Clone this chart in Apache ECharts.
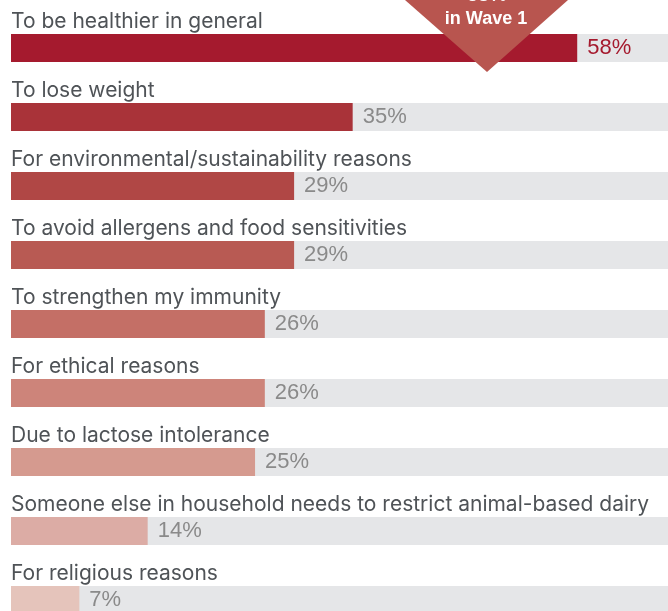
<!DOCTYPE html>
<html>
<head>
<meta charset="utf-8">
<script src="https://cdn.jsdelivr.net/npm/echarts@6/dist/echarts.min.js"></script>
<style>
  html, body { margin: 0; padding: 0; background: #ffffff; }
  #chart { width: 668px; height: 611px; }
</style>
</head>
<body>
<div id="chart"></div>
<script>
// Reasons for choosing plant-based dairy alternatives (share of respondents, %)
const reasons = [
  'To be healthier in general',
  'To lose weight',
  'For environmental/sustainability reasons',
  'To avoid allergens and food sensitivities',
  'To strengthen my immunity',
  'For ethical reasons',
  'Due to lactose intolerance',
  'Someone else in household needs to restrict animal-based dairy',
  'For religious reasons'
];
const shares = [58, 35, 29, 29, 26, 26, 25, 14, 7];
const barColors = ['#a51a2e', '#a93339', '#b04745', '#b85a53', '#c46f66', '#cd847a', '#d59a8f', '#dcaca5', '#e5c4bb'];
const waveOneShare = '53%';
const waveOneNote = 'in Wave 1';

const FONT = '"Liberation Sans", Arial, Helvetica, sans-serif';
const LABEL_FONT = 'Inter, "Liberation Sans", Arial, sans-serif';

const chart = echarts.init(document.getElementById('chart'));

chart.setOption({
  animation: false,
  backgroundColor: '#ffffff',
  grid: { left: 11, right: 0, top: 13.5, height: 621, outerBoundsMode: 'none', containLabel: false },
  xAxis: { type: 'value', min: 0, max: 67.3, show: false },
  yAxis: {
    type: 'category',
    data: reasons,
    inverse: true,
    axisLine: { show: false },
    axisTick: { show: false },
    axisLabel: {
      inside: true,
      margin: 0,
      align: 'left',
      verticalAlign: 'bottom',
      padding: [0, 0, 16, 0],
      color: '#4f5357',
      fontSize: 21,
      fontFamily: LABEL_FONT,
      z: 10
    }
  },
  series: [{
    type: 'bar',
    barWidth: 28,
    showBackground: true,
    backgroundStyle: { color: '#e5e6e8' },
    data: shares.map((v, i) => ({
      value: v,
      itemStyle: { color: barColors[i] },
      label: { color: i === 0 ? '#a51a2e' : '#8a8a8a' }
    })),
    label: {
      show: true,
      position: 'right',
      distance: 10,
      fontSize: 22,
      fontFamily: FONT,
      formatter: p => p.value + '%'
    }
  }],
  graphic: [
    {
      type: 'polygon',
      z: 100,
      shape: { points: [[405, 0], [568, 0], [487, 72]] },
      style: { fill: '#b8554f' }
    },
    {
      type: 'text',
      z: 101,
      style: {
        text: waveOneShare,
        x: 487, y: 5,
        align: 'center',
        verticalAlign: 'bottom',
        fill: '#ffffff',
        font: 'bold 20px ' + FONT
      }
    },
    {
      type: 'text',
      z: 101,
      style: {
        text: waveOneNote,
        x: 486, y: 19,
        align: 'center',
        verticalAlign: 'middle',
        fill: '#ffffff',
        font: 'bold 18px ' + FONT
      }
    }
  ]
});
</script>
</body>
</html>
